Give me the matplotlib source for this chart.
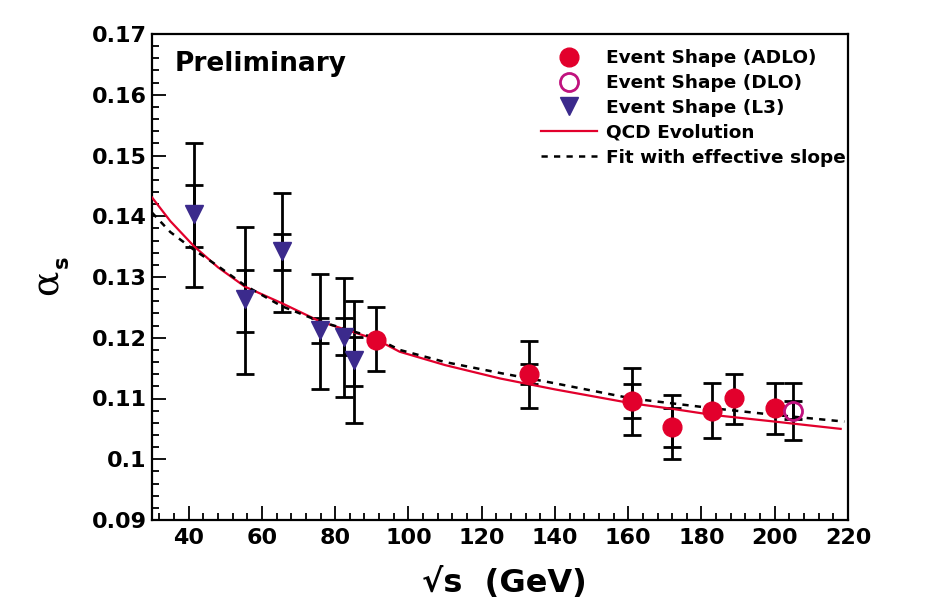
import numpy as np
import matplotlib.pyplot as plt
from matplotlib.ticker import MultipleLocator, AutoMinorLocator
from matplotlib.lines import Line2D

# L3 event shapes
l3_x = [41.4, 55.3, 65.4, 75.8, 82.3, 85.1]
l3_y = [0.1403, 0.1263, 0.1342, 0.1213, 0.1202, 0.1164]
l3_out_hi = [0.1520, 0.1382, 0.1438, 0.1305, 0.1298, 0.1261]
l3_out_lo = [0.1283, 0.1141, 0.1243, 0.1116, 0.1103, 0.1060]
l3_in_hi = [0.1452, 0.1311, 0.1371, 0.1232, 0.1232, 0.1202]
l3_in_lo = [0.1350, 0.1210, 0.1312, 0.1192, 0.1171, 0.1121]

# ADLO event shapes
adlo_x = [91.2, 133, 161, 172, 183, 189, 200]
adlo_y = [0.1197, 0.1141, 0.1096, 0.1053, 0.1080, 0.1101, 0.1085]
adlo_out_hi = [0.1250, 0.1195, 0.1151, 0.1105, 0.1126, 0.1141, 0.1126]
adlo_out_lo = [0.1146, 0.1085, 0.1040, 0.1001, 0.1035, 0.1058, 0.1042]
adlo_in_hi = [0.1200, 0.1157, 0.1124, 0.1085, 0.1083, 0.1104, 0.1088]
adlo_in_lo = [0.1194, 0.1124, 0.1068, 0.1020, 0.1077, 0.1098, 0.1082]

# DLO point
dlo_x = [205]
dlo_y = [0.1080]
dlo_out_hi = [0.1126]
dlo_out_lo = [0.1032]
dlo_in_hi = [0.1096]
dlo_in_lo = [0.1067]

qcd_x = [30, 35, 41.4, 48, 55.4, 65.4, 75.8, 91.3, 97.6, 110, 125, 140, 161, 172, 183, 200, 218]
qcd_y = [0.1431, 0.1392, 0.1351, 0.1316, 0.1284, 0.1257, 0.1227, 0.1197, 0.1177, 0.1155,
         0.1133, 0.1115, 0.1092, 0.1083, 0.1073, 0.1062, 0.1050]

# fit with effective slope
fit_x = [30, 35, 41.4, 48, 55.4, 65.4, 75.8, 91.3, 97.6, 110, 125, 140, 161, 183, 200, 219]
fit_y = [0.1406, 0.1374, 0.1345, 0.1318, 0.1286, 0.1252, 0.1227, 0.1199, 0.1180, 0.1160,
         0.1142, 0.1125, 0.1100, 0.1084, 0.1073, 0.1062]

red = '#e2002c'
mag = '#c0127e'
navy = '#3b2a8c'

plt.rcParams['font.family'] = ['DejaVu Sans']
plt.rcParams['font.weight'] = 'bold'

fig = plt.figure(figsize=(9.25, 6.11), dpi=100)
ax = fig.add_axes([152 / 925, 91 / 611, 696 / 925, 486 / 611])


def bars(x, y, lo, hi):
    y = np.array(y)
    err = [y - np.array(lo), np.array(hi) - y]
    ax.errorbar(x, y, yerr=err, fmt='none', ecolor='black', elinewidth=2.0,
                capsize=6.5, capthick=2.0, zorder=2)


for xs, ys, ol, oh, il, ih in [
    (l3_x, l3_y, l3_out_lo, l3_out_hi, l3_in_lo, l3_in_hi),
    (adlo_x, adlo_y, adlo_out_lo, adlo_out_hi, adlo_in_lo, adlo_in_hi),
    (dlo_x, dlo_y, dlo_out_lo, dlo_out_hi, dlo_in_lo, dlo_in_hi),
]:
    bars(xs, ys, ol, oh)
    bars(xs, ys, il, ih)

ax.plot(qcd_x, qcd_y, color=red, lw=1.6, zorder=3)
ax.plot(fit_x, fit_y, color='black', lw=1.8, ls=(0, (2.5, 2.5)), zorder=3)

ax.plot(l3_x, l3_y, 'v', color=navy, ms=13, zorder=4)
ax.plot(adlo_x, adlo_y, 'o', color=red, ms=13.5, zorder=4)
ax.plot(dlo_x, dlo_y, 'o', mfc='none', mec=mag, mew=2, ms=13, zorder=4)

ax.set_xlim(30, 220)
ax.set_ylim(0.09, 0.17)
ax.xaxis.set_major_locator(MultipleLocator(20))
ax.xaxis.set_minor_locator(AutoMinorLocator(5))
ax.yaxis.set_major_locator(MultipleLocator(0.01))
ax.yaxis.set_minor_locator(AutoMinorLocator(5))
ax.tick_params(which='both', direction='in', top=False, right=False, width=1.3)
ax.tick_params(which='major', length=10, labelsize=16)
ax.tick_params(axis='x', which='major', pad=6)
ax.tick_params(axis='y', which='major', pad=4)
ax.tick_params(which='minor', length=5)
ax.set_xticks([40, 60, 80, 100, 120, 140, 160, 180, 200, 220])
ax.set_xticklabels(['40', '60', '80', '100', '120', '140', '160', '180', '200', '220'],
                   fontweight='bold')
ax.set_yticks([0.09, 0.1, 0.11, 0.12, 0.13, 0.14, 0.15, 0.16, 0.17])
ax.set_yticklabels(['0.09', '0.1', '0.11', '0.12', '0.13', '0.14', '0.15', '0.16', '0.17'],
                   fontweight='bold')
for s in ax.spines.values():
    s.set_linewidth(1.6)

ax.text(0.033, 0.965, 'Preliminary', transform=ax.transAxes, fontsize=19,
        fontweight='bold', va='top', ha='left')

handles = [
    Line2D([], [], ls='none', marker='o', color=red, ms=13.5),
    Line2D([], [], ls='none', marker='o', mfc='none', mec=mag, mew=2, ms=13),
    Line2D([], [], ls='none', marker='v', color=navy, ms=13),
    Line2D([], [], color=red, lw=1.6),
    Line2D([], [], color='black', lw=1.8, ls=(0, (2.5, 2.5))),
]
labels = ['Event Shape (ADLO)', 'Event Shape (DLO)', 'Event Shape (L3)',
          'QCD Evolution', 'Fit with effective slope']
ax.legend(handles, labels, loc='upper left', bbox_to_anchor=(0.549, 0.984),
          frameon=False, handlelength=3.0, handletextpad=0.5,
          labelspacing=0.37, borderaxespad=0, prop={'weight': 'bold', 'size': 13.3})

fig.text(47 / 925, 1 - 282 / 611, '\u03b1', rotation=90, fontsize=27,
         family='DejaVu Serif', fontweight='normal', ha='center', va='center')
fig.text(62 / 925, 1 - 262 / 611, 's', rotation=90, fontsize=15,
         fontweight='bold', ha='center', va='center')
fig.text(504 / 925, 1 - 583 / 611, '\u221as  (GeV)', fontsize=23,
         fontweight='bold', ha='center', va='center')

fig.savefig('out.png', dpi=100)
